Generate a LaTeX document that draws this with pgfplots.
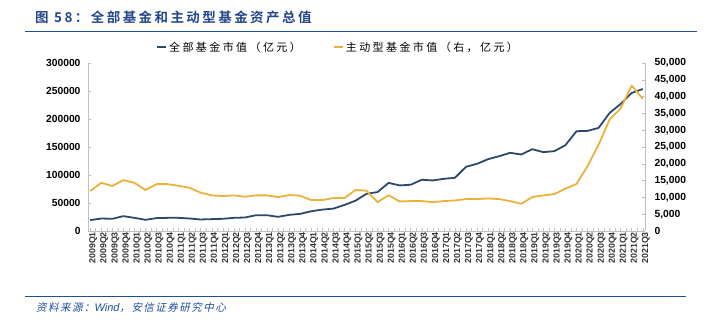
\documentclass[border=0pt]{standalone}
\usepackage{fontspec}
\usepackage{pgfplots}
\usepackage{pgfplotstable}
\pgfplotsset{compat=1.18}
\setmainfont{Liberation Sans}
\newfontfamily\cjk{Noto Sans CJK SC}[LetterSpace=22]
\newfontfamily\cjktitle{Noto Sans CJK SC}[BoldFont={Noto Sans CJK SC Bold},LetterSpace=18]
\newfontfamily\cjkit{Noto Sans CJK SC}[FakeSlant=0.22,LetterSpace=14]
\definecolor{allblue}{HTML}{2B4A6B}
\definecolor{actyellow}{HTML}{E8B23C}
\definecolor{titleblue}{HTML}{24478A}
\definecolor{ruleblue}{HTML}{1F4E9A}
\definecolor{axgray}{HTML}{BFBFBF}

\pgfplotstableread{
idx all active
0 19400 11900
1 22300 14350
2 21800 13400
3 26500 15150
4 23500 14350
5 20000 12200
6 23000 13950
7 23500 13950
8 23500 13450
9 22300 12850
10 20600 11400
11 21200 10600
12 21800 10400
13 23500 10600
14 24100 10200
15 28200 10600
16 28200 10600
17 25300 10100
18 28800 10700
19 30600 10500
20 35300 9200
21 38200 9200
22 40000 9800
23 46500 9800
24 54100 12200
25 66400 12000
26 69500 8600
27 86000 10650
28 81400 8800
29 82600 8900
30 91500 8900
31 90300 8600
32 93200 8900
33 95000 9100
34 114600 9500
35 120000 9500
36 128300 9700
37 133600 9500
38 139600 8900
39 136600 8100
40 146100 10100
41 140800 10600
42 142600 11000
43 153300 12600
44 178200 14000
45 178800 19300
46 184100 25700
47 210900 33200
48 226900 36500
49 246500 43300
50 253600 39300
}\datatable

\begin{document}
\begin{tikzpicture}
\path[use as bounding box] (0,0) rectangle (705bp,-323bp);
% title
\node[anchor=west, inner sep=0pt, text=titleblue] at (35bp,-17bp)
  {\fontsize{13.5bp}{15bp}\selectfont\cjktitle\bfseries 图 58：全部基金和主动型基金资产总值};
\draw[ruleblue, line width=0.8bp] (25bp,-31bp) -- (697bp,-31bp);
\draw[ruleblue, line width=1.6bp] (25bp,-31.5bp) -- (32bp,-31.5bp);
% footer
\draw[ruleblue, line width=1bp] (25bp,-296bp) -- (686bp,-296bp);
\node[anchor=west, inner sep=0pt, text=ruleblue] at (36bp,-307.5bp)
  {\fontsize{10.5bp}{12bp}\selectfont\cjkit 资料来源：{\normalfont\itshape\fontsize{11bp}{12bp}\selectfont Wind}，安信证券研究中心};

\begin{axis}[
  at={(88bp,-231bp)}, anchor=south west,
  scale only axis, width=557bp, height=168bp,
  xmin=-0.2, xmax=50.2, ymin=0, ymax=300000,
  axis x line*=bottom, axis y line*=left,
  axis line style={axgray, line width=0.6bp},
  tick style={axgray, line width=0.5bp},
  major tick length=3bp, minor tick length=3bp,
  tick align=inside,
  xtick={0,...,50}, minor xtick={0.5,1.5,...,49.5},
  xticklabels={2009Q1,2009Q2,2009Q3,2009Q4,2010Q1,2010Q2,2010Q3,2010Q4,2011Q1,2011Q2,2011Q3,2011Q4,2012Q1,2012Q2,2012Q3,2012Q4,2013Q1,2013Q2,2013Q3,2013Q4,2014Q1,2014Q2,2014Q3,2014Q4,2015Q1,2015Q2,2015Q3,2015Q4,2016Q1,2016Q2,2016Q3,2016Q4,2017Q1,2017Q2,2017Q3,2017Q4,2018Q1,2018Q2,2018Q3,2018Q4,2019Q1,2019Q2,2019Q3,2019Q4,2020Q1,2020Q2,2020Q3,2020Q4,2021Q1,2021Q2,2021Q3},
  xticklabel style={rotate=90, anchor=east, font=\fontsize{8.8bp}{9bp}\selectfont\bfseries, text=black!80, inner sep=1bp, yshift=-3bp},
  ytick={0,50000,...,300000},
  scaled y ticks=false,
  yticklabel style={font=\fontsize{10.3bp}{12bp}\selectfont\bfseries, /pgf/number format/fixed, /pgf/number format/1000 sep={}, xshift=-4bp},
  /pgf/number format/assume math mode=true,
  clip=false,
  legend style={at={(0.122,1.094)}, anchor=west, draw=none, fill=none,
    font=\fontsize{11bp}{13bp}\selectfont\cjk, inner sep=0pt,
    /tikz/every even column/.append style={column sep=30bp}},
  legend columns=2,
  legend image code/.code={\draw[#1, line width=2bp] (0bp,0bp) -- (9bp,0bp);},
]
\addplot[allblue, line width=1.8bp, line join=round] table[x=idx, y=all] {\datatable};
\addlegendentry{全部基金市值（亿元）}
\addlegendimage{actyellow, line width=1.8bp}
\addlegendentry{主动型基金市值（右，亿元）}
\end{axis}

\begin{axis}[
  at={(88bp,-231bp)}, anchor=south west,
  scale only axis, width=557bp, height=168bp,
  xmin=-0.2, xmax=50.2, ymin=0, ymax=50000,
  axis x line=none, axis y line*=right,
  axis line style={axgray, line width=0.6bp},
  tick style={axgray, line width=0.5bp},
  major tick length=3bp, tick align=inside,
  ytick={0,5000,...,50000},
  scaled y ticks=false,
  yticklabel style={font=\fontsize{10.3bp}{12bp}\selectfont\bfseries, /pgf/number format/fixed, /pgf/number format/1000 sep={,}, xshift=6bp},
  /pgf/number format/assume math mode=true,
  clip=false,
]
\addplot[actyellow, line width=1.8bp, line join=round] table[x=idx, y=active] {\datatable};
\end{axis}
\end{tikzpicture}
\end{document}
